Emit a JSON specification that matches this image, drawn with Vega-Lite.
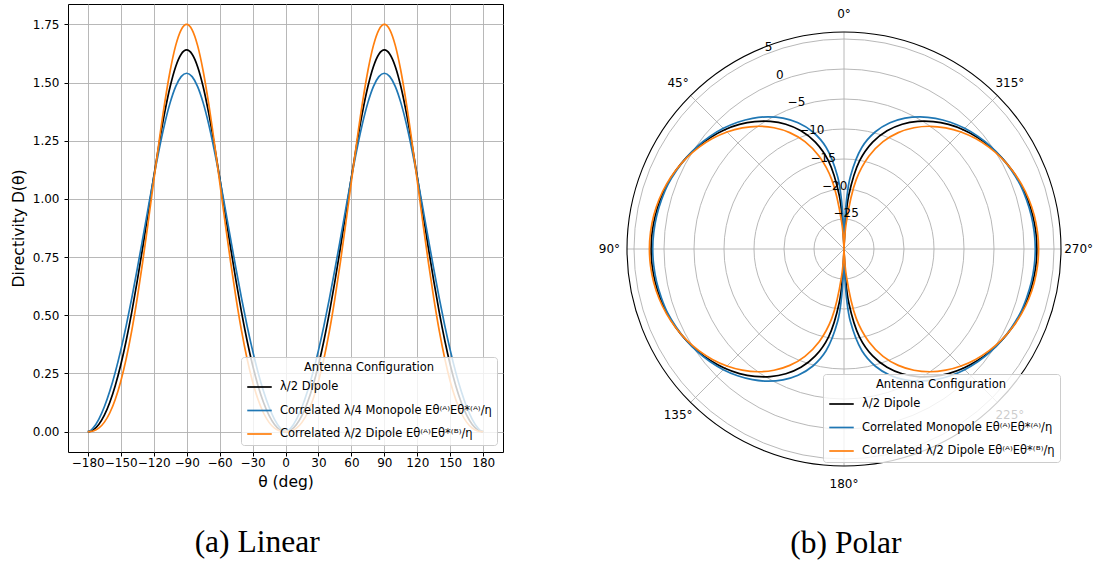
{
  "$schema": "https://vega.github.io/schema/vega-lite/v6.json",
  "background": "white",
  "padding": {"left": 10, "top": 3, "right": 0, "bottom": 0},
  "config": {
    "font": "DejaVu Sans",
    "view": {"stroke": "black", "strokeWidth": 1},
    "axis": {"labelFont": "DejaVu Sans", "labelFontSize": 12, "labelColor": "black", "titleFont": "DejaVu Sans", "titleFontSize": 15.5, "titleFontWeight": "normal", "titleColor": "black", "tickColor": "black", "tickSize": 4, "tickWidth": 1, "gridColor": "#b0b0b0", "gridWidth": 0.9, "gridOpacity": 1, "domain": false},
    "legend": {"labelFont": "DejaVu Sans", "labelFontSize": 11.5, "labelColor": "black", "titleFont": "DejaVu Sans", "titleFontSize": 11.5, "titleFontWeight": "normal", "titleColor": "black", "titleAnchor": "middle", "symbolType": "stroke", "symbolStrokeWidth": 1.7, "symbolSize": 600, "fillColor": "rgba(255,255,255,0.8)", "strokeColor": "#cccccc", "cornerRadius": 3, "padding": 5, "rowPadding": 4.5, "labelOffset": 7, "labelLimit": 400, "titlePadding": 0, "symbolOpacity": 1},
    "title": {"font": "Liberation Serif", "fontSize": 31.5, "fontWeight": "normal", "color": "black"}
  },
  "resolve": {"scale": {"color": "independent"}, "legend": {"color": "independent"}},
  "datasets": {
    "curves": [
      {"series":"dip","theta":-180,"D":0,"dB":-30},{"series":"dip","theta":-179,"D":0.0003,"dB":-35.1},{"series":"dip","theta":-178,"D":0.0012,"dB":-29.1},{"series":"dip","theta":-177,"D":0.0028,"dB":-25.6},{"series":"dip","theta":-175,"D":0.0077,"dB":-21.1},{"series":"dip","theta":-170,"D":0.031,"dB":-15.1},{"series":"dip","theta":-165,"D":0.07,"dB":-11.55},{"series":"dip","theta":-160,"D":0.1254,"dB":-9.02},{"series":"dip","theta":-155,"D":0.1975,"dB":-7.05},{"series":"dip","theta":-150,"D":0.2863,"dB":-5.43},{"series":"dip","theta":-145,"D":0.3916,"dB":-4.07},{"series":"dip","theta":-140,"D":0.5123,"dB":-2.9},{"series":"dip","theta":-135,"D":0.6467,"dB":-1.89},{"series":"dip","theta":-130,"D":0.7912,"dB":-1.02},{"series":"dip","theta":-125,"D":0.9421,"dB":-0.26},{"series":"dip","theta":-120,"D":1.0933,"dB":0.39},{"series":"dip","theta":-115,"D":1.2386,"dB":0.93},{"series":"dip","theta":-110,"D":1.3709,"dB":1.37},{"series":"dip","theta":-105,"D":1.4829,"dB":1.71},{"series":"dip","theta":-100,"D":1.5683,"dB":1.95},{"series":"dip","theta":-95,"D":1.6218,"dB":2.1},{"series":"dip","theta":-90,"D":1.64,"dB":2.15},{"series":"dip","theta":-85,"D":1.6218,"dB":2.1},{"series":"dip","theta":-80,"D":1.5683,"dB":1.95},{"series":"dip","theta":-75,"D":1.4829,"dB":1.71},{"series":"dip","theta":-70,"D":1.3709,"dB":1.37},{"series":"dip","theta":-65,"D":1.2386,"dB":0.93},{"series":"dip","theta":-60,"D":1.0933,"dB":0.39},{"series":"dip","theta":-55,"D":0.9421,"dB":-0.26},{"series":"dip","theta":-50,"D":0.7912,"dB":-1.02},{"series":"dip","theta":-45,"D":0.6467,"dB":-1.89},{"series":"dip","theta":-40,"D":0.5123,"dB":-2.9},{"series":"dip","theta":-35,"D":0.3916,"dB":-4.07},{"series":"dip","theta":-30,"D":0.2863,"dB":-5.43},{"series":"dip","theta":-25,"D":0.1975,"dB":-7.05},{"series":"dip","theta":-20,"D":0.1254,"dB":-9.02},{"series":"dip","theta":-15,"D":0.07,"dB":-11.55},{"series":"dip","theta":-10,"D":0.031,"dB":-15.1},{"series":"dip","theta":-5,"D":0.0077,"dB":-21.1},{"series":"dip","theta":-3,"D":0.0028,"dB":-25.6},{"series":"dip","theta":-2,"D":0.0012,"dB":-29.1},{"series":"dip","theta":-1,"D":0.0003,"dB":-35.1},
      {"series":"dip","theta":0,"D":0,"dB":-30},
      {"series":"dip","theta":1,"D":0.0003,"dB":-35.1},{"series":"dip","theta":2,"D":0.0012,"dB":-29.1},{"series":"dip","theta":3,"D":0.0028,"dB":-25.6},{"series":"dip","theta":5,"D":0.0077,"dB":-21.1},{"series":"dip","theta":10,"D":0.031,"dB":-15.1},{"series":"dip","theta":15,"D":0.07,"dB":-11.55},{"series":"dip","theta":20,"D":0.1254,"dB":-9.02},{"series":"dip","theta":25,"D":0.1975,"dB":-7.05},{"series":"dip","theta":30,"D":0.2863,"dB":-5.43},{"series":"dip","theta":35,"D":0.3916,"dB":-4.07},{"series":"dip","theta":40,"D":0.5123,"dB":-2.9},{"series":"dip","theta":45,"D":0.6467,"dB":-1.89},{"series":"dip","theta":50,"D":0.7912,"dB":-1.02},{"series":"dip","theta":55,"D":0.9421,"dB":-0.26},{"series":"dip","theta":60,"D":1.0933,"dB":0.39},{"series":"dip","theta":65,"D":1.2386,"dB":0.93},{"series":"dip","theta":70,"D":1.3709,"dB":1.37},{"series":"dip","theta":75,"D":1.4829,"dB":1.71},{"series":"dip","theta":80,"D":1.5683,"dB":1.95},{"series":"dip","theta":85,"D":1.6218,"dB":2.1},{"series":"dip","theta":90,"D":1.64,"dB":2.15},{"series":"dip","theta":95,"D":1.6218,"dB":2.1},{"series":"dip","theta":100,"D":1.5683,"dB":1.95},{"series":"dip","theta":105,"D":1.4829,"dB":1.71},{"series":"dip","theta":110,"D":1.3709,"dB":1.37},{"series":"dip","theta":115,"D":1.2386,"dB":0.93},{"series":"dip","theta":120,"D":1.0933,"dB":0.39},{"series":"dip","theta":125,"D":0.9421,"dB":-0.26},{"series":"dip","theta":130,"D":0.7912,"dB":-1.02},{"series":"dip","theta":135,"D":0.6467,"dB":-1.89},{"series":"dip","theta":140,"D":0.5123,"dB":-2.9},{"series":"dip","theta":145,"D":0.3916,"dB":-4.07},{"series":"dip","theta":150,"D":0.2863,"dB":-5.43},{"series":"dip","theta":155,"D":0.1975,"dB":-7.05},{"series":"dip","theta":160,"D":0.1254,"dB":-9.02},{"series":"dip","theta":165,"D":0.07,"dB":-11.55},{"series":"dip","theta":170,"D":0.031,"dB":-15.1},{"series":"dip","theta":175,"D":0.0077,"dB":-21.1},{"series":"dip","theta":177,"D":0.0028,"dB":-25.6},{"series":"dip","theta":178,"D":0.0012,"dB":-29.1},{"series":"dip","theta":179,"D":0.0003,"dB":-35.1},{"series":"dip","theta":180,"D":0,"dB":-30},

      {"series":"mono","theta":-180,"D":0,"dB":-30},{"series":"mono","theta":-179,"D":0.001,"dB":-29.8},{"series":"mono","theta":-178,"D":0.0034,"dB":-24.7},{"series":"mono","theta":-177,"D":0.0068,"dB":-21.7},{"series":"mono","theta":-175,"D":0.0162,"dB":-17.9},{"series":"mono","theta":-170,"D":0.0527,"dB":-12.78},{"series":"mono","theta":-165,"D":0.1056,"dB":-9.77},{"series":"mono","theta":-160,"D":0.1732,"dB":-7.61},{"series":"mono","theta":-155,"D":0.2547,"dB":-5.94},{"series":"mono","theta":-150,"D":0.3493,"dB":-4.57},{"series":"mono","theta":-145,"D":0.4558,"dB":-3.41},{"series":"mono","theta":-140,"D":0.5728,"dB":-2.42},{"series":"mono","theta":-135,"D":0.6982,"dB":-1.56},{"series":"mono","theta":-130,"D":0.8288,"dB":-0.82},{"series":"mono","theta":-125,"D":0.9613,"dB":-0.17},{"series":"mono","theta":-120,"D":1.091,"dB":0.38},{"series":"mono","theta":-115,"D":1.2131,"dB":0.84},{"series":"mono","theta":-110,"D":1.3224,"dB":1.26},{"series":"mono","theta":-105,"D":1.4137,"dB":1.5},{"series":"mono","theta":-100,"D":1.4826,"dB":1.71},{"series":"mono","theta":-95,"D":1.5255,"dB":1.83},{"series":"mono","theta":-90,"D":1.54,"dB":1.88},{"series":"mono","theta":-85,"D":1.5255,"dB":1.83},{"series":"mono","theta":-80,"D":1.4826,"dB":1.71},{"series":"mono","theta":-75,"D":1.4137,"dB":1.5},{"series":"mono","theta":-70,"D":1.3224,"dB":1.26},{"series":"mono","theta":-65,"D":1.2131,"dB":0.84},{"series":"mono","theta":-60,"D":1.091,"dB":0.38},{"series":"mono","theta":-55,"D":0.9613,"dB":-0.17},{"series":"mono","theta":-50,"D":0.8288,"dB":-0.82},{"series":"mono","theta":-45,"D":0.6982,"dB":-1.56},{"series":"mono","theta":-40,"D":0.5728,"dB":-2.42},{"series":"mono","theta":-35,"D":0.4558,"dB":-3.41},{"series":"mono","theta":-30,"D":0.3493,"dB":-4.57},{"series":"mono","theta":-25,"D":0.2547,"dB":-5.94},{"series":"mono","theta":-20,"D":0.1732,"dB":-7.61},{"series":"mono","theta":-15,"D":0.1056,"dB":-9.77},{"series":"mono","theta":-10,"D":0.0527,"dB":-12.78},{"series":"mono","theta":-5,"D":0.0162,"dB":-17.9},{"series":"mono","theta":-3,"D":0.0068,"dB":-21.7},{"series":"mono","theta":-2,"D":0.0034,"dB":-24.7},{"series":"mono","theta":-1,"D":0.001,"dB":-29.8},
      {"series":"mono","theta":0,"D":0,"dB":-30},
      {"series":"mono","theta":1,"D":0.001,"dB":-29.8},{"series":"mono","theta":2,"D":0.0034,"dB":-24.7},{"series":"mono","theta":3,"D":0.0068,"dB":-21.7},{"series":"mono","theta":5,"D":0.0162,"dB":-17.9},{"series":"mono","theta":10,"D":0.0527,"dB":-12.78},{"series":"mono","theta":15,"D":0.1056,"dB":-9.77},{"series":"mono","theta":20,"D":0.1732,"dB":-7.61},{"series":"mono","theta":25,"D":0.2547,"dB":-5.94},{"series":"mono","theta":30,"D":0.3493,"dB":-4.57},{"series":"mono","theta":35,"D":0.4558,"dB":-3.41},{"series":"mono","theta":40,"D":0.5728,"dB":-2.42},{"series":"mono","theta":45,"D":0.6982,"dB":-1.56},{"series":"mono","theta":50,"D":0.8288,"dB":-0.82},{"series":"mono","theta":55,"D":0.9613,"dB":-0.17},{"series":"mono","theta":60,"D":1.091,"dB":0.38},{"series":"mono","theta":65,"D":1.2131,"dB":0.84},{"series":"mono","theta":70,"D":1.3224,"dB":1.26},{"series":"mono","theta":75,"D":1.4137,"dB":1.5},{"series":"mono","theta":80,"D":1.4826,"dB":1.71},{"series":"mono","theta":85,"D":1.5255,"dB":1.83},{"series":"mono","theta":90,"D":1.54,"dB":1.88},{"series":"mono","theta":95,"D":1.5255,"dB":1.83},{"series":"mono","theta":100,"D":1.4826,"dB":1.71},{"series":"mono","theta":105,"D":1.4137,"dB":1.5},{"series":"mono","theta":110,"D":1.3224,"dB":1.26},{"series":"mono","theta":115,"D":1.2131,"dB":0.84},{"series":"mono","theta":120,"D":1.091,"dB":0.38},{"series":"mono","theta":125,"D":0.9613,"dB":-0.17},{"series":"mono","theta":130,"D":0.8288,"dB":-0.82},{"series":"mono","theta":135,"D":0.6982,"dB":-1.56},{"series":"mono","theta":140,"D":0.5728,"dB":-2.42},{"series":"mono","theta":145,"D":0.4558,"dB":-3.41},{"series":"mono","theta":150,"D":0.3493,"dB":-4.57},{"series":"mono","theta":155,"D":0.2547,"dB":-5.94},{"series":"mono","theta":160,"D":0.1732,"dB":-7.61},{"series":"mono","theta":165,"D":0.1056,"dB":-9.77},{"series":"mono","theta":170,"D":0.0527,"dB":-12.78},{"series":"mono","theta":175,"D":0.0162,"dB":-17.9},{"series":"mono","theta":177,"D":0.0068,"dB":-21.7},{"series":"mono","theta":178,"D":0.0034,"dB":-24.7},{"series":"mono","theta":179,"D":0.001,"dB":-29.8},{"series":"mono","theta":180,"D":0,"dB":-30},

      {"series":"corr","theta":-180,"D":0,"dB":-30},{"series":"corr","theta":-179,"D":0.0001,"dB":-42.3},{"series":"corr","theta":-178,"D":0.0003,"dB":-35.1},{"series":"corr","theta":-177,"D":0.0008,"dB":-30.8},{"series":"corr","theta":-175,"D":0.0028,"dB":-25.5},{"series":"corr","theta":-170,"D":0.0149,"dB":-18.26},{"series":"corr","theta":-165,"D":0.0398,"dB":-14},{"series":"corr","theta":-160,"D":0.0801,"dB":-10.97},{"series":"corr","theta":-155,"D":0.138,"dB":-8.6},{"series":"corr","theta":-150,"D":0.2155,"dB":-6.67},{"series":"corr","theta":-145,"D":0.3137,"dB":-5.03},{"series":"corr","theta":-140,"D":0.4332,"dB":-3.63},{"series":"corr","theta":-135,"D":0.5728,"dB":-2.42},{"series":"corr","theta":-130,"D":0.7297,"dB":-1.37},{"series":"corr","theta":-125,"D":0.8997,"dB":-0.46},{"series":"corr","theta":-120,"D":1.0758,"dB":0.32},{"series":"corr","theta":-115,"D":1.2495,"dB":0.97},{"series":"corr","theta":-110,"D":1.4113,"dB":1.5},{"series":"corr","theta":-105,"D":1.5508,"dB":1.91},{"series":"corr","theta":-100,"D":1.6586,"dB":2.2},{"series":"corr","theta":-95,"D":1.7267,"dB":2.37},{"series":"corr","theta":-90,"D":1.75,"dB":2.43},{"series":"corr","theta":-85,"D":1.7267,"dB":2.37},{"series":"corr","theta":-80,"D":1.6586,"dB":2.2},{"series":"corr","theta":-75,"D":1.5508,"dB":1.91},{"series":"corr","theta":-70,"D":1.4113,"dB":1.5},{"series":"corr","theta":-65,"D":1.2495,"dB":0.97},{"series":"corr","theta":-60,"D":1.0758,"dB":0.32},{"series":"corr","theta":-55,"D":0.8997,"dB":-0.46},{"series":"corr","theta":-50,"D":0.7297,"dB":-1.37},{"series":"corr","theta":-45,"D":0.5728,"dB":-2.42},{"series":"corr","theta":-40,"D":0.4332,"dB":-3.63},{"series":"corr","theta":-35,"D":0.3137,"dB":-5.03},{"series":"corr","theta":-30,"D":0.2155,"dB":-6.67},{"series":"corr","theta":-25,"D":0.138,"dB":-8.6},{"series":"corr","theta":-20,"D":0.0801,"dB":-10.97},{"series":"corr","theta":-15,"D":0.0398,"dB":-14},{"series":"corr","theta":-10,"D":0.0149,"dB":-18.26},{"series":"corr","theta":-5,"D":0.0028,"dB":-25.5},{"series":"corr","theta":-3,"D":0.0008,"dB":-30.8},{"series":"corr","theta":-2,"D":0.0003,"dB":-35.1},{"series":"corr","theta":-1,"D":0.0001,"dB":-42.3},
      {"series":"corr","theta":0,"D":0,"dB":-30},
      {"series":"corr","theta":1,"D":0.0001,"dB":-42.3},{"series":"corr","theta":2,"D":0.0003,"dB":-35.1},{"series":"corr","theta":3,"D":0.0008,"dB":-30.8},{"series":"corr","theta":5,"D":0.0028,"dB":-25.5},{"series":"corr","theta":10,"D":0.0149,"dB":-18.26},{"series":"corr","theta":15,"D":0.0398,"dB":-14},{"series":"corr","theta":20,"D":0.0801,"dB":-10.97},{"series":"corr","theta":25,"D":0.138,"dB":-8.6},{"series":"corr","theta":30,"D":0.2155,"dB":-6.67},{"series":"corr","theta":35,"D":0.3137,"dB":-5.03},{"series":"corr","theta":40,"D":0.4332,"dB":-3.63},{"series":"corr","theta":45,"D":0.5728,"dB":-2.42},{"series":"corr","theta":50,"D":0.7297,"dB":-1.37},{"series":"corr","theta":55,"D":0.8997,"dB":-0.46},{"series":"corr","theta":60,"D":1.0758,"dB":0.32},{"series":"corr","theta":65,"D":1.2495,"dB":0.97},{"series":"corr","theta":70,"D":1.4113,"dB":1.5},{"series":"corr","theta":75,"D":1.5508,"dB":1.91},{"series":"corr","theta":80,"D":1.6586,"dB":2.2},{"series":"corr","theta":85,"D":1.7267,"dB":2.37},{"series":"corr","theta":90,"D":1.75,"dB":2.43},{"series":"corr","theta":95,"D":1.7267,"dB":2.37},{"series":"corr","theta":100,"D":1.6586,"dB":2.2},{"series":"corr","theta":105,"D":1.5508,"dB":1.91},{"series":"corr","theta":110,"D":1.4113,"dB":1.5},{"series":"corr","theta":115,"D":1.2495,"dB":0.97},{"series":"corr","theta":120,"D":1.0758,"dB":0.32},{"series":"corr","theta":125,"D":0.8997,"dB":-0.46},{"series":"corr","theta":130,"D":0.7297,"dB":-1.37},{"series":"corr","theta":135,"D":0.5728,"dB":-2.42},{"series":"corr","theta":140,"D":0.4332,"dB":-3.63},{"series":"corr","theta":145,"D":0.3137,"dB":-5.03},{"series":"corr","theta":150,"D":0.2155,"dB":-6.67},{"series":"corr","theta":155,"D":0.138,"dB":-8.6},{"series":"corr","theta":160,"D":0.0801,"dB":-10.97},{"series":"corr","theta":165,"D":0.0398,"dB":-14},{"series":"corr","theta":170,"D":0.0149,"dB":-18.26},{"series":"corr","theta":175,"D":0.0028,"dB":-25.5},{"series":"corr","theta":177,"D":0.0008,"dB":-30.8},{"series":"corr","theta":178,"D":0.0003,"dB":-35.1},{"series":"corr","theta":179,"D":0.0001,"dB":-42.3},{"series":"corr","theta":180,"D":0,"dB":-30}
    ],
    "rings": [{"r":5},{"r":10},{"r":15},{"r":20},{"r":25},{"r":30},{"r":35}],
    "outer": [{"r":36.1667}],
    "spokes": [{"angle":0},{"angle":45},{"angle":90},{"angle":135},{"angle":180},{"angle":225},{"angle":270},{"angle":315}],
    "angleLabels": [{"label":"0°","angle":0},{"label":"45°","angle":45},{"label":"90°","angle":90},{"label":"135°","angle":135},{"label":"180°","angle":180},{"label":"225°","angle":225},{"label":"270°","angle":270},{"label":"315°","angle":315}],
    "rLabels": [{"label":"5","r":35},{"label":"0","r":30},{"label":"−5","r":25},{"label":"−10","r":20},{"label":"−15","r":15},{"label":"−20","r":10},{"label":"−25","r":5}]
  },
  "spacing": 124,
  "bounds": "flush",
  "hconcat": [
    {
      "width": 435,
      "height": 448,
      "title": {"text": "(a) Linear", "orient": "bottom", "anchor": "middle", "frame": "bounds", "offset": 37},
      "data": {"name": "curves"},
      "mark": {"type": "line", "strokeWidth": 1.7, "interpolate": "monotone"},
      "encoding": {
        "x": {"field": "theta", "type": "quantitative", "scale": {"domain": [-198, 198], "nice": false, "zero": false},
              "axis": {"title": "θ (deg)", "values": [-180,-150,-120,-90,-60,-30,0,30,60,90,120,150,180], "labelOverlap": false, "labelFlush": false, "labelPadding": 1, "titlePadding": 6}},
        "y": {"field": "D", "type": "quantitative", "scale": {"domain": [-0.0875, 1.8375], "nice": false, "zero": false},
              "axis": {"title": "Directivity D(θ)", "values": [0,0.25,0.5,0.75,1,1.25,1.5,1.75], "format": ".2f", "labelPadding": 5, "titlePadding": 6}},
        "color": {"field": "series", "type": "nominal",
                  "scale": {"domain": ["dip","mono","corr"], "range": ["#000000","#1f77b4","#ff7f0e"]},
                  "legend": {"title": "Antenna Configuration", "orient": "none", "legendX": 173, "legendY": 353,
                             "labelExpr": "datum.value == 'dip' ? 'λ/2 Dipole' : datum.value == 'mono' ? 'Correlated λ/4 Monopole Eθ⁽ᴬ⁾Eθ*⁽ᴬ⁾/η' : 'Correlated λ/2 Dipole Eθ⁽ᴬ⁾Eθ*⁽ᴮ⁾/η'"}}
      }
    },
    {
      "width": 434,
      "height": 490,
      "view": {"stroke": null},
      "title": {"text": "(b) Polar", "orient": "bottom", "anchor": "middle", "frame": "bounds", "offset": 34},
      "layer": [
        {
          "data": {"name": "rings"},
          "mark": {"type": "point", "shape": "circle", "filled": false, "stroke": "#b0b0b0", "strokeWidth": 0.9, "opacity": 1},
          "encoding": {
            "x": {"datum": 0, "type": "quantitative", "scale": {"domain": [-36.1667, 36.1667], "nice": false, "zero": false}, "axis": null},
            "y": {"datum": 0, "type": "quantitative", "scale": {"domain": [-40.8333, 40.8333], "nice": false, "zero": false}, "axis": null},
            "size": {"field": "r", "type": "quantitative", "scale": {"type": "pow", "exponent": 2, "domain": [0, 36.1667], "range": [0, 188356], "zero": true, "nice": false}, "legend": null}
          }
        },
        {
          "data": {"name": "spokes"},
          "transform": [
            {"calculate": "-36.1667*sin(datum.angle*PI/180)", "as": "ex"},
            {"calculate": "36.1667*cos(datum.angle*PI/180)", "as": "ey"}
          ],
          "mark": {"type": "rule", "stroke": "#b0b0b0", "strokeWidth": 0.9},
          "encoding": {
            "x": {"field": "ex", "type": "quantitative", "scale": {"domain": [-36.1667, 36.1667], "nice": false, "zero": false}, "axis": null},
            "y": {"field": "ey", "type": "quantitative", "scale": {"domain": [-40.8333, 40.8333], "nice": false, "zero": false}, "axis": null},
            "x2": {"datum": 0},
            "y2": {"datum": 0}
          }
        },
        {
          "data": {"name": "curves"},
          "transform": [
            {"calculate": "max(datum.dB, -30) + 30", "as": "R"},
            {"calculate": "-datum.R*sin(datum.theta*PI/180)", "as": "px"},
            {"calculate": "datum.R*cos(datum.theta*PI/180)", "as": "py"}
          ],
          "mark": {"type": "line", "strokeWidth": 1.7, "interpolate": "catmull-rom"},
          "encoding": {
            "x": {"field": "px", "type": "quantitative", "scale": {"domain": [-36.1667, 36.1667], "nice": false, "zero": false}, "axis": null},
            "y": {"field": "py", "type": "quantitative", "scale": {"domain": [-40.8333, 40.8333], "nice": false, "zero": false}, "axis": null},
            "order": {"field": "theta", "type": "quantitative"},
            "color": {"field": "series", "type": "nominal",
                      "scale": {"domain": ["dip","mono","corr"], "range": ["#000000","#1f77b4","#ff7f0e"]},
                      "legend": {"title": "Antenna Configuration", "orient": "none", "legendX": 196, "legendY": 370,
                                 "labelExpr": "datum.value == 'dip' ? 'λ/2 Dipole' : datum.value == 'mono' ? 'Correlated Monopole Eθ⁽ᴬ⁾Eθ*⁽ᴬ⁾/η' : 'Correlated λ/2 Dipole Eθ⁽ᴬ⁾Eθ*⁽ᴮ⁾/η'"}}
          }
        },
        {
          "data": {"name": "outer"},
          "mark": {"type": "point", "shape": "circle", "filled": false, "stroke": "#000000", "strokeWidth": 1.1, "opacity": 1},
          "encoding": {
            "x": {"datum": 0, "type": "quantitative", "scale": {"domain": [-36.1667, 36.1667], "nice": false, "zero": false}, "axis": null},
            "y": {"datum": 0, "type": "quantitative", "scale": {"domain": [-40.8333, 40.8333], "nice": false, "zero": false}, "axis": null},
            "size": {"field": "r", "type": "quantitative", "scale": {"type": "pow", "exponent": 2, "domain": [0, 36.1667], "range": [0, 188356], "zero": true, "nice": false}, "legend": null}
          }
        },
        {
          "data": {"name": "angleLabels"},
          "transform": [
            {"calculate": "-39.1*sin(datum.angle*PI/180)", "as": "lx"},
            {"calculate": "39.1*cos(datum.angle*PI/180)", "as": "ly"}
          ],
          "mark": {"type": "text", "font": "DejaVu Sans", "fontSize": 12, "color": "black", "align": "center", "baseline": "middle"},
          "encoding": {
            "x": {"field": "lx", "type": "quantitative", "scale": {"domain": [-36.1667, 36.1667], "nice": false, "zero": false}, "axis": null},
            "y": {"field": "ly", "type": "quantitative", "scale": {"domain": [-40.8333, 40.8333], "nice": false, "zero": false}, "axis": null},
            "text": {"field": "label"}
          }
        },
        {
          "data": {"name": "rLabels"},
          "transform": [
            {"calculate": "-datum.r*sin(22.5*PI/180)", "as": "lx"},
            {"calculate": "datum.r*cos(22.5*PI/180)", "as": "ly"}
          ],
          "mark": {"type": "text", "font": "DejaVu Sans", "fontSize": 12, "color": "black", "align": "left", "baseline": "bottom", "dx": 1, "dy": -1},
          "encoding": {
            "x": {"field": "lx", "type": "quantitative", "scale": {"domain": [-36.1667, 36.1667], "nice": false, "zero": false}, "axis": null},
            "y": {"field": "ly", "type": "quantitative", "scale": {"domain": [-40.8333, 40.8333], "nice": false, "zero": false}, "axis": null},
            "text": {"field": "label"}
          }
        }
      ]
    }
  ]
}
